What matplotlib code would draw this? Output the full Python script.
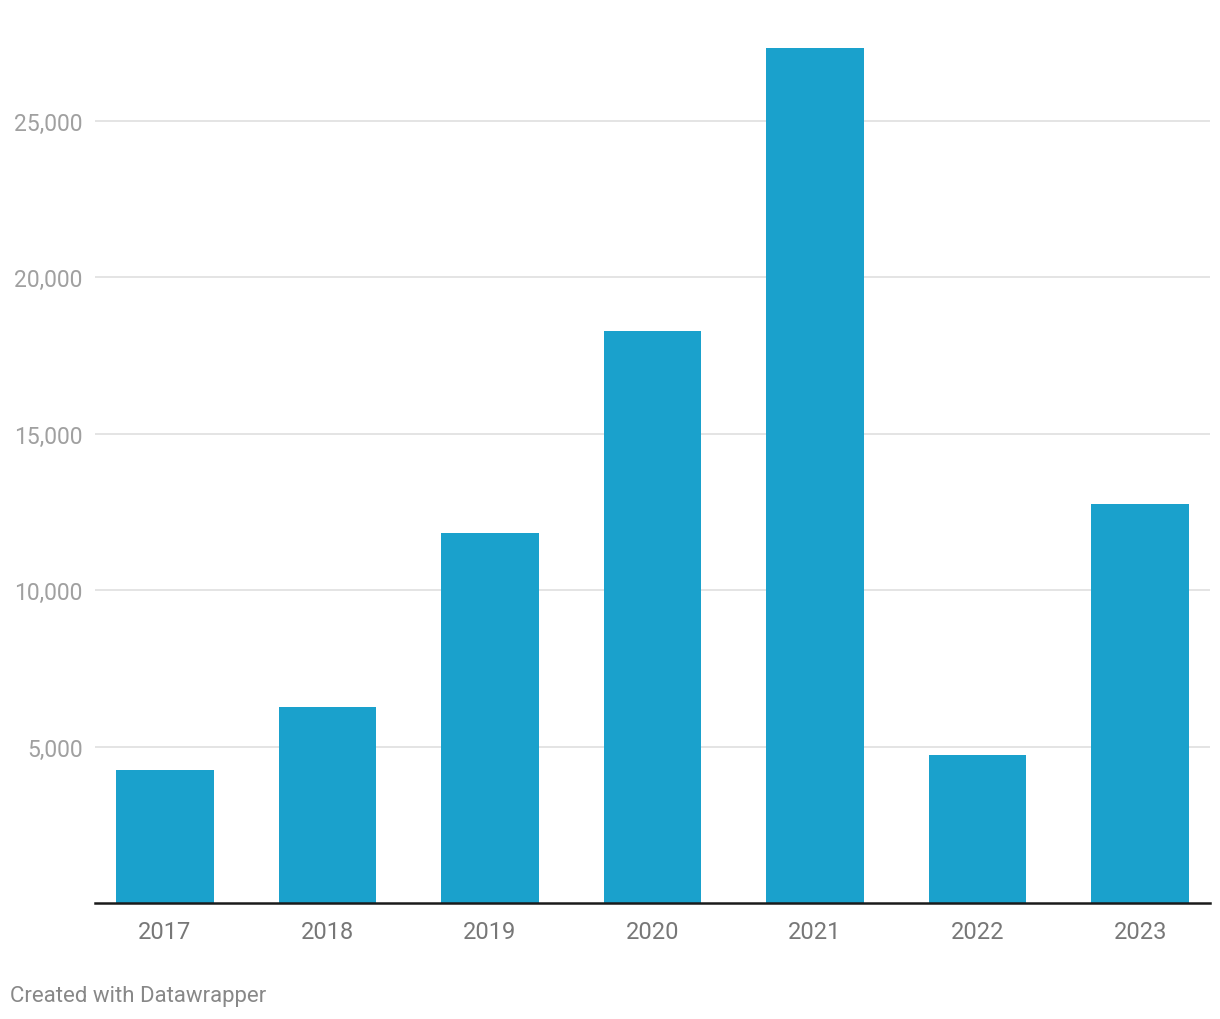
import matplotlib
matplotlib.use("Agg")
import matplotlib.pyplot as plt
from matplotlib.ticker import FuncFormatter

years = ["2017", "2018", "2019", "2020", "2021", "2022", "2023"]
values = [4250, 6270, 11830, 18290, 27330, 4730, 12760]
yticks = [5000, 10000, 15000, 20000, 25000]

plt.rcParams['font.family'] = ['Roboto', 'DejaVu Sans']

fig = plt.figure(figsize=(12.2, 10.2), dpi=100)
ax = fig.add_axes([95/1220, 116/1020, (1210-95)/1220, (904-28)/1020])

x = list(range(len(years)))
ax.bar(x, values, width=0.6, color="#1aa1cc", zorder=2)

ax.set_xlim(-0.43, len(years) - 1 + 0.43)
ax.set_ylim(0, 28000)
ax.set_yticks(yticks)
ax.yaxis.set_major_formatter(FuncFormatter(lambda v, p: f"{int(v):,}"))
ax.grid(axis="y", color="#e2e2e2", linewidth=1.3, zorder=0)
ax.set_xticks(x)
ax.set_xticklabels(years)

ax.tick_params(axis="y", length=0, pad=9, labelsize=16.5, labelcolor="#a0a0a0")
ax.tick_params(axis="x", length=0, pad=12, labelsize=17, labelcolor="#777777")

for s in ["top", "right", "left"]:
    ax.spines[s].set_visible(False)
ax.spines["bottom"].set_color("#1a1a1a")
ax.spines["bottom"].set_linewidth(1.8)
ax.spines["bottom"].set_zorder(3)

fig.text(10/1220, 1 - 997/1020, "Created with Datawrapper", fontsize=16,
         color="#888888", ha="left", va="center")

fig.savefig("out.png", dpi=100, facecolor="white")
